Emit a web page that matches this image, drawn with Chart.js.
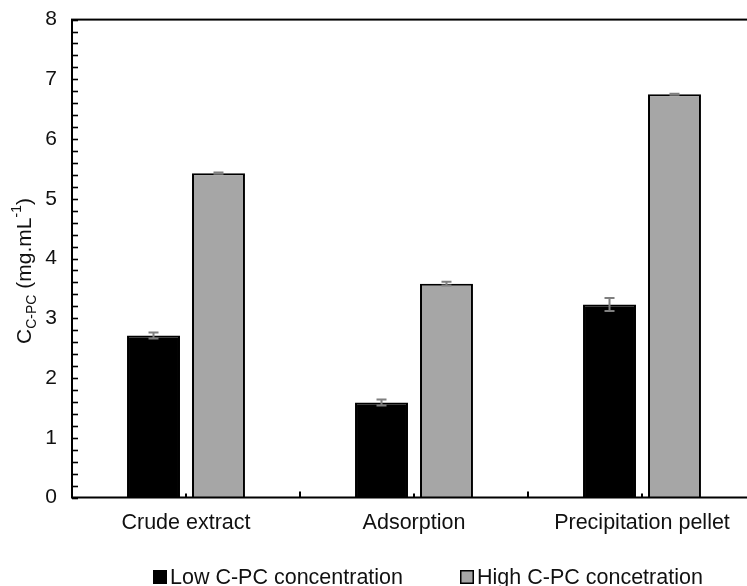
<!DOCTYPE html>
<html>
<head>
<meta charset="utf-8">
<script src="https://cdn.jsdelivr.net/npm/chart.js@4"></script>
<style>
  html, body { margin: 0; padding: 0; background: #fff; overflow: hidden; }
  #wrap { width: 760px; height: 586px; }
  canvas { display: block; }
</style>
</head>
<body>
<div id="wrap"><canvas id="c" width="760" height="586"></canvas></div>
<script>
// Purification stages and C-PC concentration (mg/mL) for the two feed levels
const categories = ['Crude extract', 'Adsorption', 'Precipitation pellet'];
const seriesNames = ['Low C-PC concentration', 'High C-PC concetration'];
const lowValues = [2.71, 1.59, 3.23];
const lowErrors = [0.05, 0.05, 0.11];
const highValues = [5.43, 3.58, 6.75];
const highErrors = [0.01, 0.03, 0.01];
const yMin = 0;
const yMax = 8;
const yMajorStep = 1;
const yMinorStep = 0.2;

const FONT = '"Liberation Sans", Arial, sans-serif';
const TEXT = '#111';

// Frame, inward tick marks and category separators
const framePlugin = {
  id: 'frame',
  afterDatasetsDraw(chart) {
    const { ctx, chartArea: a, scales: { x, y } } = chart;
    ctx.save();
    ctx.strokeStyle = '#000';
    ctx.lineWidth = 2;
    ctx.strokeRect(a.left, a.top, a.right - a.left, a.bottom - a.top);
    // y minor/major ticks pointing into the plot
    ctx.lineWidth = 1.6;
    const n = Math.round((yMax - yMin) / yMinorStep);
    for (let i = 0; i <= n; i++) {
      const py = Math.round(y.getPixelForValue(yMin + i * yMinorStep)) + 0.5;
      ctx.beginPath();
      ctx.moveTo(a.left, py);
      ctx.lineTo(a.left + 6, py);
      ctx.stroke();
    }
    // separators between categories
    ctx.lineWidth = 2;
    for (let i = 1; i < categories.length; i++) {
      const px = (x.getPixelForValue(i - 1) + x.getPixelForValue(i)) / 2;
      ctx.beginPath();
      ctx.moveTo(px, a.bottom);
      ctx.lineTo(px, a.bottom - 6);
      ctx.stroke();
    }
    // small marks at category centres
    for (let i = 0; i < categories.length; i++) {
      const px = x.getPixelForValue(i);
      ctx.beginPath();
      ctx.moveTo(px, a.bottom);
      ctx.lineTo(px, a.bottom - 4);
      ctx.stroke();
    }
    ctx.restore();
  }
};

// Symmetric error bars on each bar
const errorBarPlugin = {
  id: 'errorBars',
  afterDatasetsDraw(chart) {
    const { ctx, scales: { y } } = chart;
    ctx.save();
    ctx.strokeStyle = '#7f7f7f';
    ctx.lineWidth = 2;
    chart.data.datasets.forEach((ds, di) => {
      const meta = chart.getDatasetMeta(di);
      meta.data.forEach((bar, i) => {
        const v = ds.data[i];
        const e = ds.errors[i];
        const top = y.getPixelForValue(v + e);
        const bot = y.getPixelForValue(v - e);
        const cx = bar.x;
        ctx.beginPath();
        ctx.moveTo(cx, top); ctx.lineTo(cx, bot);
        ctx.moveTo(cx - 5, top); ctx.lineTo(cx + 5, top);
        ctx.moveTo(cx - 5, bot); ctx.lineTo(cx + 5, bot);
        ctx.stroke();
      });
    });
    ctx.restore();
  }
};

// Rotated y-axis title with subscript and superscript
const yTitlePlugin = {
  id: 'yTitle',
  afterDraw(chart) {
    const { ctx } = chart;
    const big = 21, small = 14;
    const parts = [
      { t: 'C', s: big, dy: 0 },
      { t: 'C-PC', s: small, dy: 5 },
      { t: ' (mg.mL', s: big, dy: 0 },
      { t: '-1', s: small, dy: -10 },
      { t: ')', s: big, dy: 0 }
    ];
    ctx.save();
    ctx.fillStyle = TEXT;
    ctx.textBaseline = 'alphabetic';
    ctx.textAlign = 'left';
    let total = 0;
    parts.forEach(p => { ctx.font = p.s + 'px ' + FONT; total += ctx.measureText(p.t).width; });
    const cy = 271;
    ctx.translate(31, cy + total / 2);
    ctx.rotate(-Math.PI / 2);
    let xx = 0;
    parts.forEach(p => {
      ctx.font = p.s + 'px ' + FONT;
      ctx.fillText(p.t, xx, p.dy);
      xx += ctx.measureText(p.t).width;
    });
    ctx.restore();
  }
};

// Legend row under the category labels
const legendPlugin = {
  id: 'legendRow',
  afterDraw(chart) {
    const { ctx } = chart;
    const starts = [153, 460];
    ctx.save();
    ctx.font = '21.5px ' + FONT;
    ctx.textBaseline = 'alphabetic';
    ctx.fillStyle = TEXT;
    chart.data.datasets.forEach((ds, i) => {
      const bx = starts[i];
      ctx.fillStyle = ds.backgroundColor;
      ctx.fillRect(bx, 570, 14, 14);
      ctx.strokeStyle = '#000';
      ctx.lineWidth = 1.5;
      ctx.strokeRect(bx + 0.75, 570.75, 12.5, 12.5);
      ctx.fillStyle = TEXT;
      ctx.fillText(ds.label, bx + 17, 584);
    });
    ctx.restore();
  }
};

new Chart(document.getElementById('c'), {
  type: 'bar',
  data: {
    labels: categories,
    datasets: [
      {
        label: seriesNames[0],
        data: lowValues,
        errors: lowErrors,
        backgroundColor: '#000000',
        borderColor: '#000000',
        borderWidth: 2
      },
      {
        label: seriesNames[1],
        data: highValues,
        errors: highErrors,
        backgroundColor: '#a6a6a6',
        borderColor: '#000000',
        borderWidth: 2
      }
    ]
  },
  options: {
    responsive: false,
    animation: false,
    layout: { padding: { top: 8.5, right: 4, left: 0, bottom: 0 } },
    datasets: { bar: { categoryPercentage: 0.57, barPercentage: 0.815 } },
    plugins: { legend: { display: false }, tooltip: { enabled: false } },
    scales: {
      x: {
        grid: { display: false },
        border: { display: false },
        ticks: { color: TEXT, font: { family: FONT, size: 21.5 }, padding: 5, maxRotation: 0 },
        afterFit(s) { s.height = 88.5; }
      },
      y: {
        min: yMin,
        max: yMax,
        grid: { display: false },
        border: { display: false },
        ticks: { stepSize: yMajorStep, color: TEXT, font: { family: FONT, size: 21 }, padding: 7 },
        afterFit(s) { s.width = 72; }
      }
    }
  },
  plugins: [framePlugin, errorBarPlugin, yTitlePlugin, legendPlugin]
});
</script>
</body>
</html>
